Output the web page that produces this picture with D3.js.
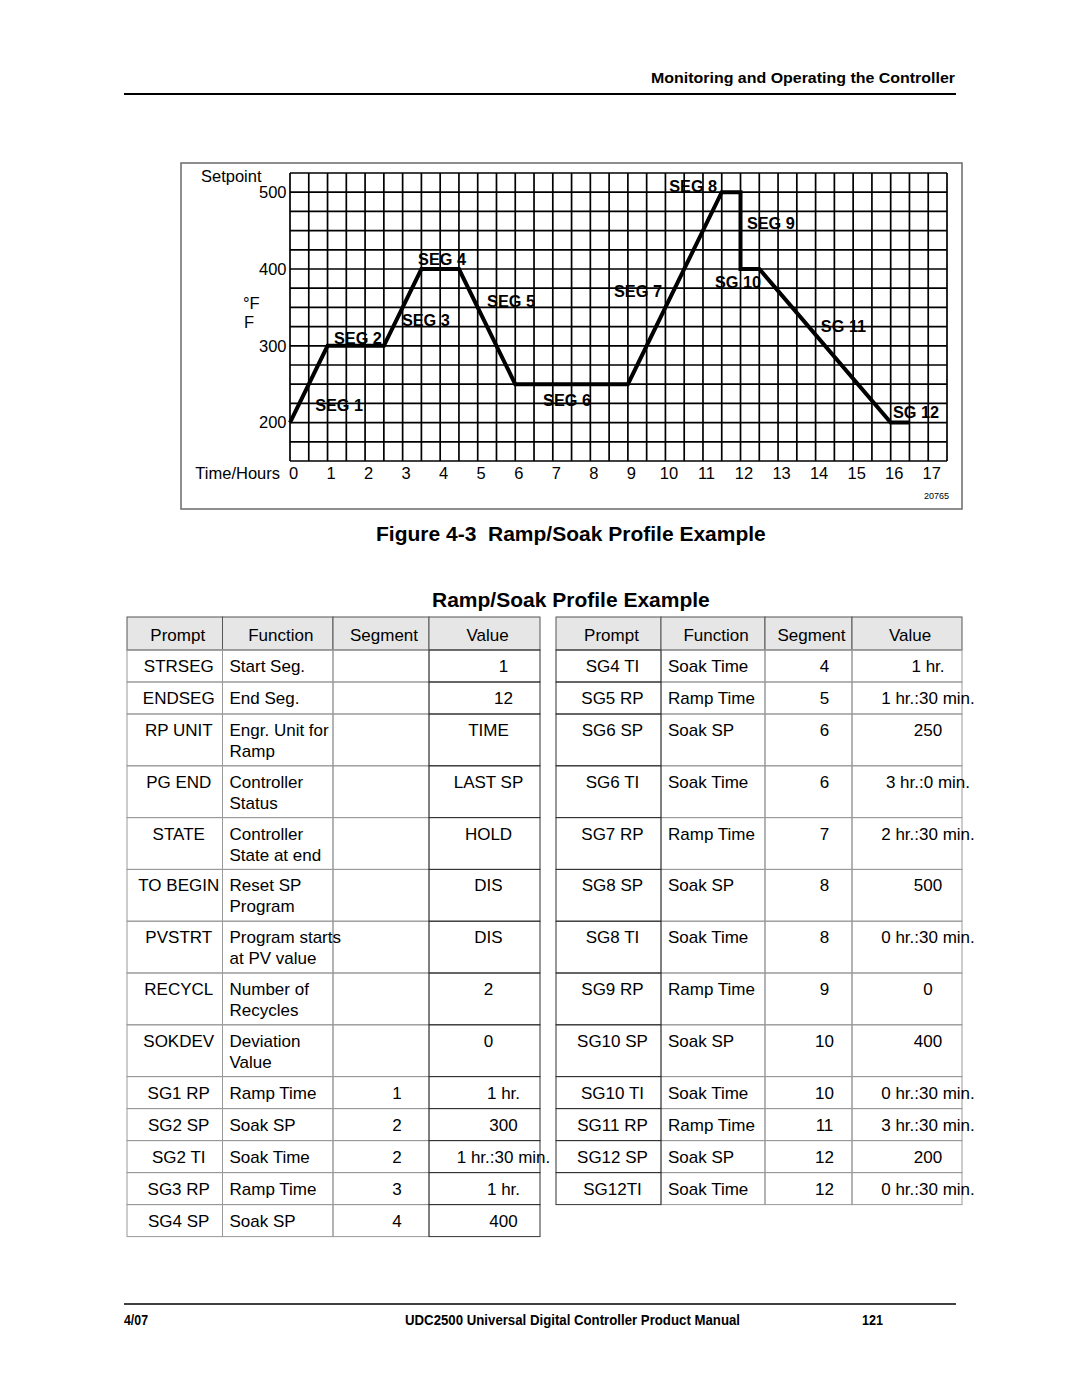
<!DOCTYPE html>
<html><head><meta charset="utf-8">
<script src="https://cdn.jsdelivr.net/npm/d3@7"></script>
<style>
body{margin:0;background:#fff}
svg{display:block}
text{font-family:"Liberation Sans",Arial,Helvetica,sans-serif;fill:#000}
</style>
</head><body>
<svg id="c" width="1080" height="1397"></svg>
<script>
// ---------- chart data ----------
const profileHours = [0, 1, 2.5, 3.5, 4.5, 6, 9, 11.5, 12, 12, 12.5, 16, 16.5];
const profileSetpoints = [200, 300, 300, 400, 400, 250, 250, 500, 500, 400, 400, 200, 200];
const xTickLabels = [0,1,2,3,4,5,6,7,8,9,10,11,12,13,14,15,16,17];
const yTickLabels = [200, 300, 400, 500];
const segNames = ["SEG 1","SEG 2","SEG 3","SEG 4","SEG 5","SEG 6","SEG 7","SEG 8","SEG 9","SG 10","SG 11","SG 12"];
const segLabelHours = [0.67, 1.17, 2.98, 3.41, 5.25, 6.74, 8.63, 10.1, 12.17, 11.32, 14.14, 16.06];
const segLabelTemps = [215, 302, 326, 405, 350, 222, 364, 500, 452, 375, 318, 206];

// ---------- table data ----------
const headers = ["Prompt", "Function", "Segment", "Value"];
const leftPrompts = ["STRSEG","ENDSEG","RP UNIT","PG END","STATE","TO BEGIN","PVSTRT","RECYCL","SOKDEV","SG1 RP","SG2 SP","SG2 TI","SG3 RP","SG4 SP"];
const leftFunctions = ["Start Seg.","End Seg.","Engr. Unit for\nRamp","Controller\nStatus","Controller\nState at end","Reset SP\nProgram","Program starts\nat PV value","Number of\nRecycles","Deviation\nValue","Ramp Time","Soak SP","Soak Time","Ramp Time","Soak SP"];
const leftSegments = ["","","","","","","","","","1","2","2","3","4"];
const leftValues = ["1","12","TIME","LAST SP","HOLD","DIS","DIS","2","0","1 hr.","300","1 hr.:30 min.","1 hr.","400"];
const rightPrompts = ["SG4 TI","SG5 RP","SG6 SP","SG6 TI","SG7 RP","SG8 SP","SG8 TI","SG9 RP","SG10 SP","SG10 TI","SG11 RP","SG12 SP","SG12TI"];
const rightFunctions = ["Soak Time","Ramp Time","Soak SP","Soak Time","Ramp Time","Soak SP","Soak Time","Ramp Time","Soak SP","Soak Time","Ramp Time","Soak SP","Soak Time"];
const rightSegments = ["4","5","6","6","7","8","8","9","10","10","11","12","12"];
const rightValues = ["1 hr.","1 hr.:30 min.","250","3 hr.:0 min.","2 hr.:30 min.","500","0 hr.:30 min.","0","400","0 hr.:30 min.","3 hr.:30 min.","200","0 hr.:30 min."];

const svg = d3.select("#c");
svg.append("rect").attr("width",1080).attr("height",1397).attr("fill","#fff");

// ---------- page header / footer ----------
svg.append("text").attr("x",955).attr("y",83).attr("text-anchor","end")
  .style("font-family","'Liberation Sans Narrow','Liberation Sans',Arial,sans-serif")
  .attr("font-weight","bold").attr("font-size",14).attr("textLength",304).attr("lengthAdjust","spacingAndGlyphs")
  .text("Monitoring and Operating the Controller");
svg.append("line").attr("x1",124).attr("x2",956).attr("y1",94).attr("y2",94).attr("stroke","#000").attr("stroke-width",2);
svg.append("line").attr("x1",124).attr("x2",956).attr("y1",1304).attr("y2",1304).attr("stroke","#000").attr("stroke-width",1.5);
const foot = [["4/07",124,24],["UDC2500 Universal Digital Controller Product Manual",405,335],["121",862,21]];
foot.forEach(f=>{
  svg.append("text").attr("x",f[1]).attr("y",1325)
    .style("font-family","'Liberation Sans Narrow','Liberation Sans',Arial,sans-serif")
    .attr("font-weight","bold").attr("font-size",14).attr("textLength",f[2]).attr("lengthAdjust","spacingAndGlyphs")
    .text(f[0]);
});

// ---------- chart ----------
const x = d3.scaleLinear().domain([0,17.5]).range([290,947]);
const y = d3.scaleLinear().domain([150,525]).range([461,173]);

svg.append("rect").attr("x",181).attr("y",163).attr("width",781).attr("height",346)
  .attr("fill","none").attr("stroke","#6a6a6a").attr("stroke-width",1.5);

const grid = svg.append("g").attr("stroke","#000").attr("stroke-width",1.7);
grid.selectAll("line.v").data(d3.range(0,36).map(i=>i*0.5)).join("line").attr("class","v")
  .attr("x1",d=>x(d)).attr("x2",d=>x(d)).attr("y1",y(525)).attr("y2",y(150));
grid.selectAll("line.h").data(d3.range(150,526,25)).join("line").attr("class","h")
  .attr("y1",d=>y(d)).attr("y2",d=>y(d)).attr("x1",x(0)).attr("x2",x(17.5));

const xAxis = d3.axisBottom(x).tickValues(xTickLabels).tickSize(0).tickPadding(6.5).tickFormat(d3.format("d"));
svg.append("g").attr("transform","translate(3,461)").call(xAxis)
  .call(g=>g.select(".domain").remove())
  .attr("font-family","'Liberation Sans',Arial,sans-serif").attr("font-size",16.5)
  .selectAll("text").attr("fill","#000");
const yAxis = d3.axisLeft(y).tickValues(yTickLabels).tickSize(0).tickPadding(3.5);
svg.append("g").attr("transform","translate(290,0)").call(yAxis)
  .call(g=>g.select(".domain").remove())
  .attr("font-family","'Liberation Sans',Arial,sans-serif").attr("font-size",16.5)
  .selectAll("text").attr("fill","#000");

svg.append("text").attr("x",201).attr("y",182).attr("font-size",16.5).text("Setpoint");
svg.append("text").attr("x",243).attr("y",309).attr("font-size",16.5).text("°F");
svg.append("text").attr("x",244).attr("y",328).attr("font-size",16.5).text("F");
svg.append("text").attr("x",280).attr("y",479).attr("text-anchor","end").attr("font-size",16.5).text("Time/Hours");
svg.append("text").attr("x",949).attr("y",499).attr("text-anchor","end").attr("font-size",9).text("20765");

const line = d3.line().x((d,i)=>x(profileHours[i])).y(d=>y(d));
svg.append("path").datum(profileSetpoints).attr("d",line)
  .attr("fill","none").attr("stroke","#000").attr("stroke-width",4).attr("stroke-linejoin","miter");

svg.append("g").selectAll("text").data(segNames).join("text")
  .attr("x",(d,i)=>x(segLabelHours[i])).attr("y",(d,i)=>y(segLabelTemps[i]))
  .attr("font-weight","bold").attr("font-size",16.3).text(d=>d);

// ---------- captions ----------
svg.append("text").attr("x",376).attr("y",541).attr("font-weight","bold").attr("font-size",21)
  .style("white-space","pre").text("Figure 4-3  Ramp/Soak Profile Example");
svg.append("text").attr("x",432).attr("y",607).attr("font-weight","bold").attr("font-size",21)
  .text("Ramp/Soak Profile Example");

// ---------- tables ----------
const rowH = leftFunctions.map(f => f.includes("\n") ? 51.8 : 32);
const rowTop = [];
rowH.reduce((acc,h,i)=>{rowTop[i]=acc; return acc+h;}, 650);

function drawTable(cols, prompts, funcs, segs, vals, darkCol, valShift) {
  const g = svg.append("g");
  headers.forEach((h,ci)=>{
    g.append("rect").attr("x",cols[ci]).attr("y",617).attr("width",cols[ci+1]-cols[ci]).attr("height",33)
      .attr("fill","#e6e6e6").attr("stroke","#555").attr("stroke-width",1);
    g.append("text").attr("x",(cols[ci]+cols[ci+1])/2+3).attr("y",641).attr("text-anchor","middle")
      .attr("font-size",17).text(h);
  });
  const n = prompts.length;
  for (let pass=0; pass<2; pass++) {
    for (let r=0;r<n;r++) for (let ci=0;ci<4;ci++) {
      const dark = ci===darkCol;
      if ((pass===0) === dark) continue;
      g.append("rect").attr("x",cols[ci]).attr("y",rowTop[r]).attr("width",cols[ci+1]-cols[ci]).attr("height",rowH[r])
        .attr("fill","none").attr("stroke",dark?"#333":"#9a9a9a").attr("stroke-width",1);
    }
  }
  for (let r=0;r<n;r++) {
    const b = rowTop[r]+22;
    g.append("text").attr("x",(cols[0]+cols[1])/2+4).attr("y",b).attr("text-anchor","middle").attr("font-size",17).text(prompts[r]);
    const fl = funcs[r].split("\n");
    fl.forEach((t,k)=>g.append("text").attr("x",cols[1]+7).attr("y",b+k*21).attr("font-size",17).text(t));
    g.append("text").attr("x",(cols[2]+cols[3])/2+16).attr("y",b).attr("text-anchor","middle").attr("font-size",17).text(segs[r]);
    g.append("text").attr("x",(cols[3]+cols[4])/2+valShift(r)).attr("y",b).attr("text-anchor","middle").attr("font-size",17).text(vals[r]);
  }
}
drawTable([127,222.5,333,429,540], leftPrompts, leftFunctions, leftSegments, leftValues, 3, r => (r>=2 && r<=8) ? 4 : 19);
drawTable([556,661,765,852,962], rightPrompts, rightFunctions, rightSegments, rightValues, 0, r => 21);
</script>
</body></html>
